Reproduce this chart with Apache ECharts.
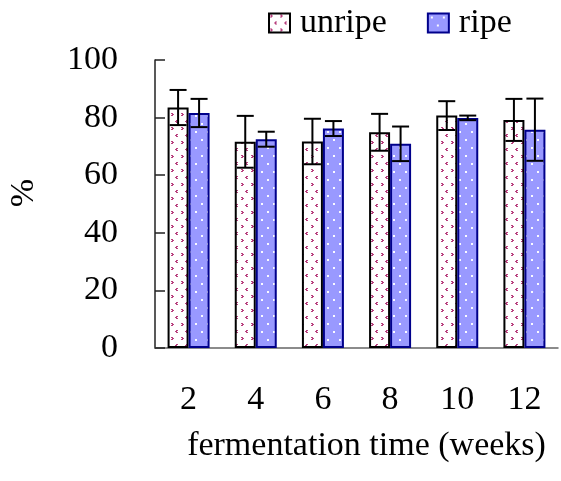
<!DOCTYPE html>
<html><head><meta charset="utf-8">
<script src="https://cdn.jsdelivr.net/npm/echarts@6/dist/echarts.min.js"></script>
<style>html,body{margin:0;padding:0;background:#fff}#c{width:561px;height:481px}</style>
</head><body><div id="c"></div>
<script>
// ---- data ----
const categories = ['2', '4', '6', '8', '10', '12'];
const unripe = [83.5, 71.6, 71.7, 74.9, 80.7, 79.2];
const unripeErr = [6.1, 9.0, 7.9, 6.4, 5.0, 7.3];
const ripe = [81.6, 72.5, 76.2, 70.9, 79.9, 75.8];
const ripeErr = [4.9, 2.6, 2.6, 6.0, 0.8, 10.8];
const yTicks = { min: 0, max: 100, interval: 20 };
const seriesNames = ['unripe', 'ripe'];
const xTitle = 'fermentation time (weeks)';
const yTitle = '%';

// ---- styles ----
const FONT = "'Liberation Serif', 'Times New Roman', serif";
const FS = 34;
const BAR_W = 21;

function makeTile(w, h, bg, draw) {
  const c = document.createElement('canvas');
  c.width = w; c.height = h;
  const x = c.getContext('2d');
  x.fillStyle = bg; x.fillRect(0, 0, w, h);
  draw(x);
  return c;
}
const unripeTile = makeTile(10, 14, '#ffffff', (x) => {
  x.fillStyle = '#b8407e';
  // '>' mark
  [[1,1],[2,2],[1,3],[2,1],[3,2],[2,3]].forEach(p => x.fillRect(p[0], p[1], 1, 1));
  // '<' mark
  [[7,8],[6,9],[7,10],[6,8],[5,9],[6,10]].forEach(p => x.fillRect(p[0], p[1], 1, 1));
});
const ripeTile = makeTile(12, 16, '#9999ff', (x) => {
  x.fillStyle = 'rgba(255,255,255,0.95)';
  x.fillRect(3, 3, 2, 2);
  x.fillRect(9, 11, 2, 2);
});

function errSeries(vals, errs, sign) {
  return {
    type: 'custom',
    z: 10,
    silent: true,
    data: vals.map((v, i) => [i, v - errs[i], v + errs[i]]),
    renderItem: function (params, api) {
      const i = api.value(0);
      const pLo = api.coord([i, api.value(1)]);
      const pHi = api.coord([i, api.value(2)]);
      const x = pLo[0] + sign * BAR_W / 2;
      const half = 8.5;
      const st = { stroke: '#000', lineWidth: 2 };
      return {
        type: 'group',
        children: [
          { type: 'line', shape: { x1: x, y1: pHi[1], x2: x, y2: pLo[1] }, style: st },
          { type: 'line', shape: { x1: x - half, y1: pHi[1], x2: x + half, y2: pHi[1] }, style: st },
          { type: 'line', shape: { x1: x - half, y1: pLo[1], x2: x + half, y2: pLo[1] }, style: st }
        ]
      };
    }
  };
}

const chart = echarts.init(document.getElementById('c'), null, { renderer: 'canvas' });
chart.setOption({
  animation: false,
  backgroundColor: '#fff',
  textStyle: { fontFamily: FONT },
  legend: {
    data: seriesNames,
    left: 263, top: 1,
    itemWidth: 21, itemHeight: 19, itemGap: 40,
    icon: 'rect',
    textStyle: { fontFamily: FONT, fontSize: FS, color: '#000', padding: [0, 0, 0, 5] }
  },
  grid: { left: 155, top: 60, width: 403, height: 288, containLabel: false },
  xAxis: {
    type: 'category',
    data: categories,
    name: xTitle,
    nameLocation: 'middle',
    nameGap: 81,
    nameTextStyle: { fontFamily: FONT, fontSize: FS, color: '#000', padding: [0, 0, 0, 20] },
    axisLine: { lineStyle: { color: '#666', width: 1.5 } },
    axisTick: { inside: true, length: 11, lineStyle: { color: '#666', width: 1.5 } },
    axisLabel: { fontFamily: FONT, fontSize: FS, color: '#000', margin: 35 }
  },
  yAxis: {
    type: 'value',
    min: yTicks.min, max: yTicks.max, interval: yTicks.interval,
    splitLine: { show: false },
    axisLine: { show: true, lineStyle: { color: '#222', width: 1.5 } },
    axisTick: { show: true, inside: true, length: 10, lineStyle: { color: '#222', width: 1.5 } },
    axisLabel: { fontFamily: FONT, fontSize: FS, color: '#000', margin: 37 }
  },
  graphic: [{
    type: 'text',
    x: 24, y: 193,
    rotation: Math.PI / 2,
    style: { text: yTitle, font: FS + 'px ' + FONT, fill: '#000', align: 'center', verticalAlign: 'middle' }
  }],
  series: [
    {
      name: seriesNames[0], type: 'bar', data: unripe, barWidth: BAR_W, barGap: '0%',
      itemStyle: { color: { image: unripeTile, repeat: 'repeat' }, borderColor: '#000', borderWidth: 2 }
    },
    {
      name: seriesNames[1], type: 'bar', data: ripe, barWidth: BAR_W, barGap: '0%',
      itemStyle: { color: { image: ripeTile, repeat: 'repeat' }, borderColor: '#00008b', borderWidth: 2 }
    },
    errSeries(unripe, unripeErr, -1),
    errSeries(ripe, ripeErr, 1)
  ]
});
</script>
</body></html>
